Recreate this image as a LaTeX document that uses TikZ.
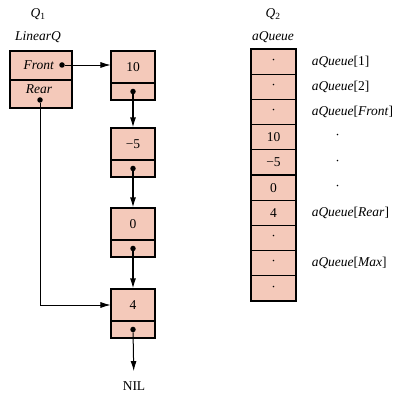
\documentclass[tikz,border=0pt]{standalone}
\usepackage{fontspec}
\setmainfont{Liberation Serif}
\usetikzlibrary{arrows.meta}
\definecolor{cellpink}{RGB}{244,201,186}
\tikzset{
  cell/.style={draw, fill=cellpink, line width=1.1pt, minimum width=44pt, inner sep=0pt},
  ptr/.style={-{Latex[length=10pt,width=6pt]}, line width=1pt},
  dot/.style={circle, fill, inner sep=0pt, minimum size=5.5pt},
}
\begin{document}
\begin{tikzpicture}[x=1pt, y=-1pt, font=\fontsize{13.5}{16}\selectfont]
        \useasboundingbox (0,0) rectangle (408,401);

        \node (q1)   at (38,14) {\textit{Q}\textsubscript{1}};
        \node (linq) at (38,37) {\textit{LinearQ}};
        \node (front) at (41,65.5) [cell, minimum width=62pt, minimum height=29pt] {};
        \node (rear)  at (41,94)   [cell, minimum width=62pt, minimum height=28pt] {};
        \node (ftext) at (39,65) {\textit{Front}};
        \node (rtext) at (39,89) {\textit{Rear}};
        \node (fdot) at (62,65)  [dot] {};
        \node (rdot) at (40,100) [dot] {};

        \foreach \val/\y [count=\i] in {10/51, −5/128, 0/208, 4/289} {
          \node (top\i) at (133,\y+16)   [cell, minimum height=32pt] {\val};
          \node (bot\i) at (133,\y+40.5) [cell, minimum height=17pt] {};
          \node (dot\i) at (bot\i) [dot] {};
        }
        \draw[ptr, line width=0.7pt] (fdot) -- (fdot -| top1.west);
        \foreach \i/\j in {1/2, 2/3, 3/4}
          \draw[ptr, line width=1.3pt] (dot\i) -- (top\j);
        \draw[ptr, line width=0.7pt] (rdot) |- (top4);
        \node (nil) at (134,386) {NIL};
        \draw[ptr, shorten >=7pt] (dot4) -- (nil);

        \node (q2) at (273,14) {\textit{Q}\textsubscript{2}};
        \node (aq) at (273,37) {\textit{aQueue}};
        \foreach \val [count=\i] in {·,·,·,10,−5,0,4,·,·,·}
          \node (a\i) at (273.5,36.4+25.2*\i) [cell, minimum width=45pt, minimum height=25.2pt] {\val};

        \foreach \i/\txt in {1/{[1]}, 2/{[2]}, 3/{[\textit{Front}]}, 7/{[\textit{Rear}]}, 9/{[\textit{Max}]}}
          \node (lab\i) at ([xshift=15pt]a\i.east) [anchor=west, inner sep=0pt] {\textit{aQueue}\txt};
        \foreach \i in {4,5,6}
          \node (gap\i) at ([xshift=41pt]a\i.east) {·};
\end{tikzpicture}
\end{document}
